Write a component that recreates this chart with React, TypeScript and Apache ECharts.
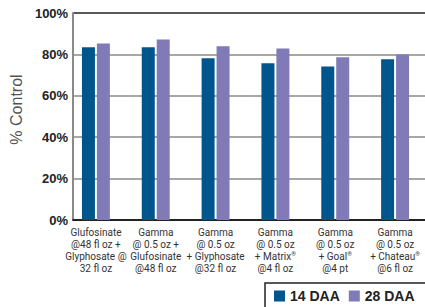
import React, { useEffect, useRef } from "react";
import * as echarts from "echarts";

const categories = [
  "Glufosinate\n@48 fl oz +\nGlyphosate @\n32 fl oz",
  "Gamma\n@ 0.5 oz +\nGlufosinate\n@48 fl oz",
  "Gamma\n@ 0.5 oz\n+ Glyphosate\n@32 fl oz",
  "Gamma\n@ 0.5 oz\n+ Matrix{s|®}\n@4 fl oz",
  "Gamma\n@ 0.5 oz\n+ Goal{s|®}\n@4 pt",
  "Gamma\n@ 0.5 oz\n+ Chateau{s|®}\n@6 fl oz",
];
const daa14 = [83.4, 83.4, 78.1, 75.7, 74.2, 77.6];
const daa28 = [85.3, 87.2, 83.9, 82.9, 78.6, 80.0];
const yTicks = [0, 20, 40, 60, 80, 100];

const DARK = "#00568C";
const LIGHT = "#807BB6";
const LABEL_FONT = "Roboto, Liberation Sans, Arial, sans-serif";

export default function App() {
  const ref = useRef<HTMLDivElement>(null);
  useEffect(() => {
    if (!ref.current) return;
    const chart = echarts.init(ref.current, null, { renderer: "svg" });
    const top = 13;
    const bottom = 87;
    chart.setOption({
      animation: false,
      textStyle: { fontFamily: "Liberation Sans, Arial, sans-serif" },
      legend: {
        left: 265,
        top: 283,
        width: 220,
        padding: [6, 30, 10, 9],
        borderColor: "#222",
        borderWidth: 1.5,
        itemWidth: 11,
        itemHeight: 11,
        itemGap: 9,
        icon: "rect",
        textStyle: { fontSize: 14, fontWeight: "bold", color: "#222" },
        data: ["14 DAA", "28 DAA"],
      },
      grid: [
        { left: 66, width: 368, top, bottom, containLabel: false },
        { left: 61, right: 0, top, bottom, containLabel: false },
      ],
      xAxis: [
        {
          type: "category",
          gridIndex: 0,
          data: categories,
          axisLine: { show: false },
          axisTick: { show: false },
          axisLabel: {
            interval: 0,
            margin: 6,
            color: "#333",
            fontFamily: LABEL_FONT,
            fontSize: 10,
            lineHeight: 12,
            rich: {
              s: { fontSize: 6, verticalAlign: "top", lineHeight: 12, color: "#333", fontFamily: LABEL_FONT },
            },
          },
        },
        {
          type: "value",
          gridIndex: 1,
          min: 0,
          max: 1,
          axisLine: { show: true, onZero: false, lineStyle: { color: "#222", width: 1.8 } },
          axisTick: { show: false },
          axisLabel: { show: false },
          splitLine: { show: false },
        },
      ],
      yAxis: [
        {
          type: "value",
          gridIndex: 0,
          min: 0,
          max: 100,
          interval: 20,
          axisLine: { show: false },
          axisTick: { show: false },
          axisLabel: { show: false },
          splitLine: { show: false },
        },
        {
          type: "value",
          gridIndex: 1,
          min: 0,
          max: 100,
          interval: 20,
          name: "% Control",
          nameLocation: "middle",
          nameGap: 36,
          nameTextStyle: { fontSize: 16, color: "#555", padding: [0, 0, 0, 14] },
          axisLine: { show: true, lineStyle: { color: "#8a8a8a", width: 2 } },
          axisTick: { show: false },
          axisLabel: {
            margin: 5,
            fontSize: 13,
            fontWeight: "bold",
            color: "#222",
            formatter: (v: number) => (yTicks.includes(v) ? v + "%" : ""),
          },
          splitLine: {
            show: true,
            lineStyle: { color: ["#222", "#8a8a8a", "#8a8a8a", "#8a8a8a", "#8a8a8a", "#222"], width: 1.5 },
          },
        },
      ],
      series: [
        {
          name: "14 DAA",
          type: "bar",
          xAxisIndex: 0,
          yAxisIndex: 0,
          data: daa14,
          barWidth: 13,
          barGap: "15%",
          itemStyle: { color: DARK },
        },
        {
          name: "28 DAA",
          type: "bar",
          xAxisIndex: 0,
          yAxisIndex: 0,
          data: daa28,
          barWidth: 13,
          barGap: "15%",
          itemStyle: { color: LIGHT },
        },
      ],
    });
    return () => chart.dispose();
  }, []);
  return <div ref={ref} style={{ width: 425, height: 307, position: "absolute", left: 0, top: 0 }} />;
}
